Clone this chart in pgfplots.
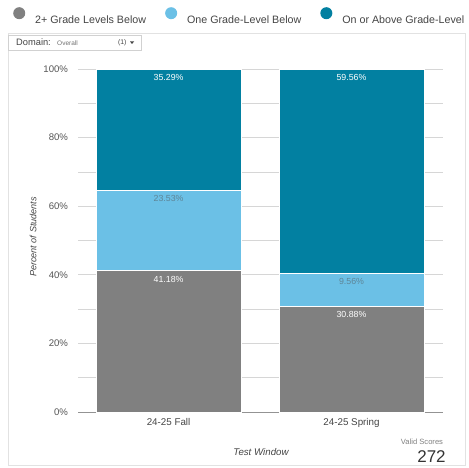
\documentclass[border=0pt]{standalone}
\usepackage{fontspec}
\setmainfont{Liberation Sans}
\usepackage{pgfplots}
\usepackage{pgfplotstable}
\pgfplotsset{compat=1.18}
\definecolor{cgray}{HTML}{808080}
\definecolor{clight}{HTML}{6BC0E6}
\definecolor{cteal}{HTML}{0280A1}
\definecolor{tickc}{HTML}{555555}
\definecolor{gridc}{HTML}{D6D6D6}
\definecolor{lblc}{HTML}{5E8597}
\definecolor{framec}{HTML}{E2E2E2}
\definecolor{legc}{HTML}{444444}

\pgfplotstableread{
x y lab
0 41.18 41.18
1 30.88 30.88
}\tableBelowTwo
\pgfplotstableread{
x y lab
0 23.53 23.53
1 9.56 9.56
}\tableBelowOne
\pgfplotstableread{
x y lab
0 35.29 35.29
1 59.56 59.56
}\tableAbove

\begin{document}
\begin{tikzpicture}[x=1pt,y=1pt]
\useasboundingbox (0,0) rectangle (469,467);
\draw[framec, line width=0.8pt] (8,2) rectangle (465,434);
\begin{axis}[
  at={(78pt,55pt)}, anchor=south west,
  scale only axis, width=365pt, height=343pt,
  ybar stacked, bar width=145pt,
  xmin=-0.495, xmax=1.5, ymin=0, ymax=100,
  xtick={0,1}, xticklabels={24-25 Fall,24-25 Spring},
  ytick={0,20,...,100}, minor ytick={10,30,...,90},
  yticklabel={\pgfmathparse{int(\tick)}\pgfmathresult\%},
  ymajorgrids, yminorgrids,
  major grid style={gridc, line width=0.8pt},
  minor grid style={gridc, line width=0.8pt},
  axis line style={draw=none},
  major tick length=0pt, minor tick length=0pt,
  tick style={draw=none},
  yticklabel style={font=\fontsize{9.6}{11}\selectfont, text=tickc, xshift=-6.5pt},
  xticklabel style={font=\fontsize{9.8}{11}\selectfont, text=legc, yshift=-3pt},
  point meta=explicit symbolic,
  nodes near coords={\pgfplotspointmeta\%},
  visualization depends on={rawy \as \rawyval},
  legend columns=3,
  legend style={at={(-0.178,1.1808)}, anchor=north west, draw=none, fill=none,
    font=\fontsize{10.7}{12}\selectfont, text=legc, inner sep=0pt,
    /tikz/every odd column/.append style={column sep=8pt},
    /tikz/every even column/.append style={column sep=17pt}},
  legend image code/.code={\fill[#1,draw=none] (6pt,7.5pt) circle (6pt);},
]
\addplot+[fill=cgray, draw=white, line width=0.6pt,
  every node near coord/.append style={anchor=north, yshift={\rawyval*1.715pt-1.5pt}, text=white, font=\fontsize{8.8}{10}\selectfont}]
  table[x=x, y=y, meta=lab] {\tableBelowTwo};
\addlegendentry{2+ Grade Levels Below}
\addplot+[fill=clight, draw=white, line width=0.6pt,
  every node near coord/.append style={anchor=north, yshift={\rawyval*1.715pt-1.5pt}, text=lblc, font=\fontsize{8.8}{10}\selectfont}]
  table[x=x, y=y, meta=lab] {\tableBelowOne};
\addlegendentry{One Grade-Level Below}
\addplot+[fill=cteal, draw=white, line width=0.6pt,
  every node near coord/.append style={anchor=north, yshift={\rawyval*1.715pt-1.5pt}, text=white, font=\fontsize{8.8}{10}\selectfont}]
  table[x=x, y=y, meta=lab] {\tableAbove};
\addlegendentry{On or Above Grade-Level}
\draw[color=gray!85, line width=1pt] (rel axis cs:0,0) -- (rel axis cs:1,0);
\end{axis}
% Domain selector
\draw[draw=black!18, fill=white, line width=0.6pt] (8,417) rectangle (141,432);
\node[anchor=west, inner sep=0pt, font=\fontsize{9.3}{10}\selectfont, text=legc] at (16,424.5) {Domain:};
\node[anchor=west, inner sep=0pt, font=\fontsize{6.5}{7}\selectfont, text=black!55] at (57,424) {Overall};
\node[anchor=west, inner sep=0pt, font=\fontsize{6.8}{7}\selectfont, text=legc] at (118,424.5) {(1)};
\fill[legc] (130,425.5) -- (134,425.5) -- (132,423) -- cycle;
% axis titles
\node[rotate=90, inner sep=0pt, font=\itshape\fontsize{9.1}{10}\selectfont, text=legc] at (33,230) {Percent of Students};
\node[inner sep=0pt, font=\itshape\fontsize{9.7}{11}\selectfont, text=legc] at (261,15) {Test Window};
\node[inner sep=0pt, font=\fontsize{7.6}{9}\selectfont, text=black!50] at (422,25) {Valid Scores};
\node[inner sep=0pt, font=\fontsize{17}{19}\selectfont, text=black!80] at (431.5,10) {272};
\end{tikzpicture}
\end{document}
